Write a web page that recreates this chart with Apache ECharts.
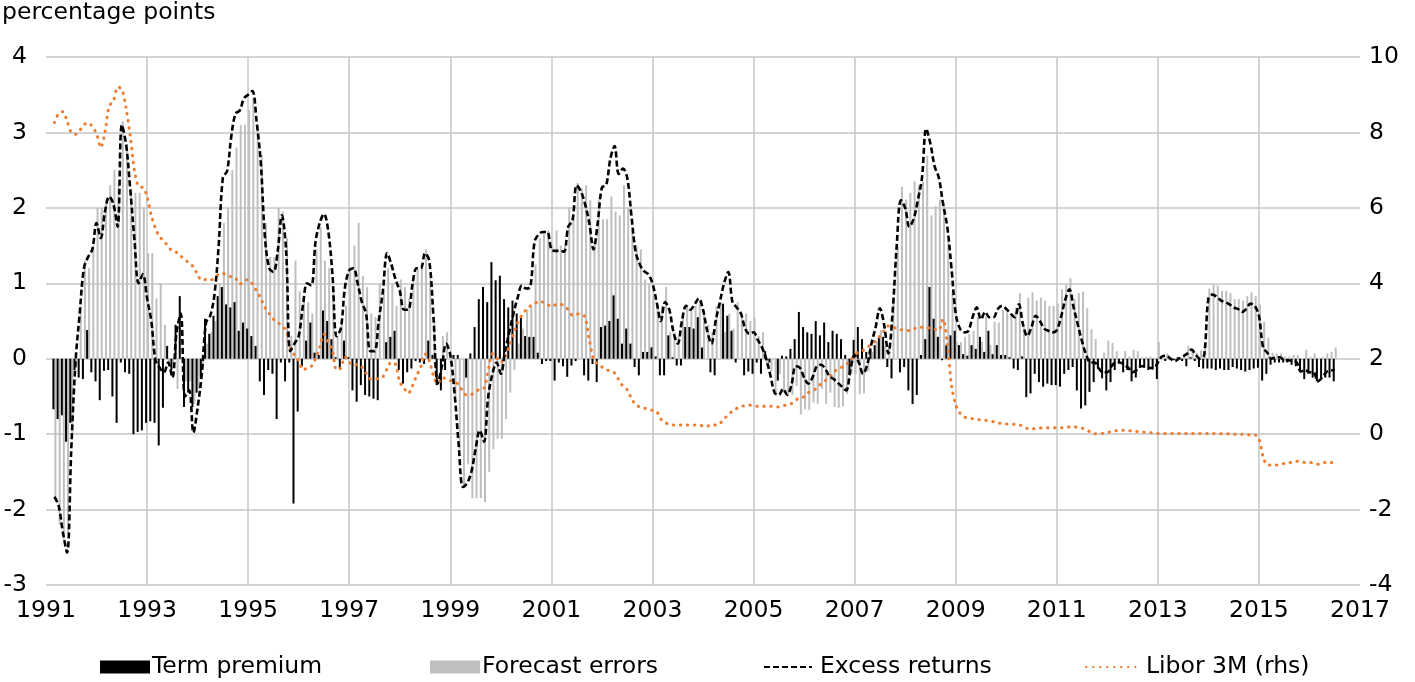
<!DOCTYPE html>
<html><head><meta charset="utf-8">
<script src="https://cdn.jsdelivr.net/npm/echarts@6/dist/echarts.min.js"></script>
<style>html,body{margin:0;padding:0;background:#fff}#c{width:1415px;height:682px}</style>
</head><body><div id="c"></div>
<script>
// Monthly observations, first month: March 1991
const startYear = 1991, startMonth = 3;

const termPremium = [
 -0.67,-0.8,-0.75,-1.1,-0.85,-0.15,-0.25,-0.27,0.38,-0.18,
 -0.3,-0.55,-0.16,-0.15,-0.5,-0.85,-0.05,-0.18,-0.2,-1.0,-0.97,-0.95,
 -0.85,-0.83,-0.85,-1.15,-0.65,0.17,-0.15,0.45,0.83,-0.64,-0.45,-0.64,
 -0.45,-0.25,0.53,0.33,0.57,0.83,0.95,0.72,0.68,0.75,0.37,0.48,
 0.4,0.3,0.17,-0.3,-0.48,-0.15,-0.2,-0.8,-0.05,-0.3,-0.05,-1.92,
 -0.7,-0.1,0.24,0.48,0.08,0.05,0.64,0.5,0.26,0.02,-0.12,0.24,
 0.02,-0.42,-0.57,-0.35,-0.48,-0.5,-0.53,-0.55,0.0,0.22,0.29,0.37,
 -0.15,-0.33,-0.18,-0.13,-0.03,-0.05,-0.07,0.24,0.05,-0.35,-0.42,-0.15,
 0.0,0.05,0.05,0.0,-0.25,0.07,0.42,0.79,0.95,0.75,1.28,1.04,
 1.1,0.79,0.68,0.77,0.6,0.55,0.3,0.29,0.29,0.08,-0.07,-0.03,
 -0.03,-0.29,-0.05,-0.1,-0.24,-0.09,-0.03,0.0,-0.22,-0.29,-0.07,-0.31,
 0.42,0.44,0.5,0.84,0.53,0.2,0.4,0.2,-0.11,-0.22,0.09,0.09,
 0.15,0.03,-0.22,-0.22,0.31,0.02,-0.09,-0.09,0.42,0.42,0.4,0.55,
 0.15,0.0,-0.18,-0.22,0.0,0.73,0.57,0.37,-0.05,0.0,-0.22,-0.17,
 -0.2,-0.05,-0.2,0.1,-0.05,0.0,-0.29,0.04,0.03,0.13,0.26,0.62,
 0.42,0.35,0.33,0.5,0.31,0.48,0.22,0.37,0.33,0.26,0.05,-0.2,
 0.25,0.42,0.26,0.09,0.11,0.18,0.29,0.29,-0.11,-0.26,0.0,-0.18,
 -0.11,-0.42,-0.6,-0.48,0.05,0.26,0.95,0.53,0.29,-0.02,0.18,0.31,
 0.37,0.18,0.06,0.04,0.18,0.13,0.29,0.09,0.37,0.06,0.18,0.05,
 0.05,0.02,-0.13,-0.15,0.03,-0.51,-0.46,-0.2,-0.31,-0.37,-0.33,-0.35,
 -0.35,-0.37,-0.2,-0.15,-0.11,-0.42,-0.66,-0.62,-0.44,-0.31,-0.13,-0.26,
 -0.42,-0.31,-0.15,-0.05,-0.18,-0.15,-0.3,-0.25,-0.12,-0.12,-0.15,-0.12,
 -0.27,0.03,-0.03,0.02,-0.02,0.02,-0.03,-0.1,0.02,-0.03,-0.11,-0.13,
 -0.13,-0.13,-0.15,-0.13,-0.15,-0.15,-0.11,-0.13,-0.15,-0.17,-0.15,-0.13,
 -0.12,-0.29,-0.2,-0.08,-0.05,-0.05,-0.05,-0.05,-0.08,-0.1,-0.15,-0.27,
 -0.2,-0.25,-0.3,-0.27,-0.25,-0.25,-0.3
];

const forecastErrors = [
 -1.83,-2.2,-2.4,-2.3,-1.0,-0.1,0.7,1.3,1.2,1.5,
 2.0,2.0,2.05,2.3,2.5,2.3,3.15,2.85,2.25,2.2,2.2,2.0,
 1.4,1.4,0.8,1.0,0.45,-0.1,-0.1,-0.4,0.0,-0.3,-0.3,-0.6,
 -0.4,-0.1,0.2,0.35,0.5,1.0,1.8,2.0,2.5,2.8,3.1,3.1,
 3.3,3.45,3.1,2.7,1.8,1.35,1.35,2.0,1.95,1.6,0.3,1.3,
 0.9,0.8,0.75,0.6,1.45,1.75,1.3,1.2,0.9,0.3,0.5,0.7,
 1.15,1.5,1.8,1.1,0.95,0.6,0.55,1.0,0.9,1.2,1.0,0.7,
 1.05,0.95,0.8,1.1,1.2,1.25,1.45,1.05,0.5,0.0,0.3,0.35,
 0.05,-0.5,-1.2,-1.7,-1.4,-1.85,-1.85,-1.85,-1.9,-1.5,-1.2,-1.06,
 -1.06,-0.8,-0.45,-0.15,0.2,0.4,0.65,0.7,1.25,1.6,1.7,1.7,
 1.5,1.7,1.5,1.5,2.0,1.9,2.33,2.25,2.3,2.1,1.55,2.1,
 1.85,1.85,2.15,1.95,1.9,2.3,2.0,1.7,1.5,1.45,1.05,1.0,
 0.85,0.7,0.7,0.95,0.35,0.35,0.3,0.55,0.7,0.65,0.7,0.75,
 0.65,0.45,0.35,0.7,0.75,0.35,0.6,0.4,0.75,0.6,0.6,0.5,
 0.55,0.3,0.35,-0.1,-0.17,-0.45,-0.2,-0.45,-0.5,-0.48,-0.36,-0.74,
 -0.67,-0.68,-0.58,-0.6,-0.4,-0.6,-0.45,-0.64,-0.65,-0.63,-0.47,-0.2,
 -0.2,-0.47,-0.46,-0.17,0.09,0.24,0.38,0.16,0.18,0.81,1.5,2.28,
 2.11,2.2,2.35,2.3,2.35,2.69,1.9,2.02,2.11,2.07,1.57,0.89,
 0.23,0.22,0.29,0.33,0.37,0.55,0.23,0.56,0.18,0.49,0.48,0.65,
 0.61,0.58,0.68,0.87,0.42,0.81,0.88,0.77,0.81,0.77,0.7,0.7,
 0.73,0.92,0.98,1.07,0.79,0.87,0.89,0.67,0.39,0.26,0.0,0.08,
 0.24,0.21,0.1,0.0,0.1,0.03,0.12,0.1,0.02,0.02,0.03,-0.01,
 0.22,0.0,0.07,-0.02,-0.01,-0.02,0.06,0.17,0.1,0.08,0.11,0.18,
 0.93,0.98,0.97,0.9,0.9,0.87,0.79,0.79,0.77,0.83,0.88,0.83,
 0.72,0.49,0.28,0.08,0.07,0.07,0.03,0.03,0.05,0.05,-0.02,0.12,
 0.02,0.07,0.0,0.02,0.07,0.09,0.15
];

const excessReturns = [
 -1.83,-1.95,-2.3,-2.57,-1.2,-0.05,0.6,1.2,1.35,1.45,
 1.8,1.6,1.95,2.15,2.05,1.75,3.1,2.85,2.25,1.58,1.0,1.12,
 0.8,0.5,-0.02,-0.12,-0.18,-0.05,-0.25,0.35,0.6,-0.5,-0.42,-0.98,
 -0.65,-0.2,0.48,0.57,0.85,1.5,2.4,2.49,2.95,3.25,3.29,3.45,
 3.5,3.55,3.15,2.6,1.6,1.2,1.15,1.42,1.9,1.45,0.1,0.2,
 0.3,0.7,1.0,0.97,1.55,1.8,1.92,1.7,1.13,0.3,0.4,0.95,
 1.17,1.2,1.0,0.75,0.6,0.1,0.1,0.5,0.9,1.4,1.25,1.05,
 0.9,0.65,0.65,0.98,1.2,1.2,1.4,1.3,0.55,-0.33,-0.1,0.2,
 0.05,-0.45,-1.15,-1.7,-1.65,-1.5,-1.2,-0.95,-1.1,-0.5,-0.2,-0.05,
 -0.2,0.1,0.35,0.6,0.81,0.97,0.93,0.95,1.55,1.65,1.68,1.68,
 1.45,1.43,1.43,1.42,1.75,1.83,2.3,2.22,2.05,1.8,1.45,1.8,
 2.27,2.3,2.65,2.82,2.45,2.52,2.4,1.9,1.42,1.25,1.16,1.12,
 1.0,0.75,0.5,0.75,0.65,0.35,0.2,0.5,0.7,0.65,0.72,0.8,
 0.65,0.37,0.2,0.5,0.75,1.0,1.15,0.75,0.68,0.6,0.4,0.33,
 0.35,0.25,0.15,0.0,-0.22,-0.45,-0.48,-0.4,-0.48,-0.35,-0.1,-0.12,
 -0.25,-0.33,-0.25,-0.1,-0.08,-0.13,-0.23,-0.27,-0.32,-0.37,-0.42,-0.15,
 0.05,-0.05,-0.2,-0.08,0.2,0.42,0.67,0.45,0.07,0.6,1.5,2.1,
 2.0,1.75,1.85,2.1,2.4,3.05,2.85,2.55,2.4,2.05,1.75,1.2,
 0.6,0.4,0.35,0.37,0.55,0.68,0.52,0.62,0.55,0.55,0.66,0.7,
 0.66,0.6,0.55,0.72,0.45,0.3,0.42,0.57,0.5,0.4,0.37,0.35,
 0.38,0.55,0.78,0.92,0.68,0.45,0.23,0.05,-0.05,-0.05,-0.13,-0.18,
 -0.18,-0.1,-0.05,-0.05,-0.08,-0.12,-0.18,-0.15,-0.1,-0.1,-0.12,-0.13,
 -0.05,0.03,0.04,0.0,-0.03,0.0,0.03,0.07,0.12,0.05,0.0,0.05,
 0.8,0.85,0.82,0.77,0.75,0.72,0.68,0.66,0.62,0.66,0.73,0.7,
 0.57,0.15,0.08,0.0,0.02,0.02,-0.02,-0.02,-0.03,-0.05,-0.17,-0.15,
 -0.18,-0.18,-0.3,-0.25,-0.18,-0.16,-0.15
];

const libor3m = [
 8.26,8.5,8.55,8.3,8.0,7.95,8.05,8.2,8.26,8.15,
 7.97,7.6,8.0,8.7,8.83,9.2,9.15,8.65,7.9,7.0,6.56,6.54,
 6.3,5.8,5.45,5.23,5.12,4.98,4.85,4.82,4.72,4.64,4.52,4.44,
 4.22,4.08,4.1,4.08,4.15,4.24,4.26,4.22,4.17,4.14,3.98,4.05,
 4.1,3.98,3.8,3.6,3.35,3.2,3.05,2.96,2.88,2.74,2.3,2.1,
 1.95,1.7,1.75,1.8,2.0,2.3,2.65,2.45,2.22,1.7,1.75,2.05,
 1.91,1.82,1.85,1.78,1.62,1.47,1.47,1.47,1.52,1.74,1.91,1.85,
 1.38,1.22,1.08,1.28,1.55,1.78,2.13,1.95,1.55,1.34,1.5,1.47,
 1.42,1.38,1.32,1.12,1.03,1.05,1.12,1.2,1.22,1.69,2.13,2.02,
 1.9,2.05,2.31,2.65,2.95,3.15,3.3,3.4,3.45,3.53,3.5,3.45,
 3.38,3.43,3.45,3.4,3.3,3.15,3.18,3.19,3.1,2.5,2.0,1.86,
 1.78,1.7,1.69,1.62,1.44,1.27,1.18,0.95,0.78,0.72,0.69,0.66,
 0.63,0.6,0.4,0.3,0.27,0.24,0.24,0.24,0.24,0.24,0.24,0.24,
 0.22,0.21,0.26,0.24,0.28,0.41,0.5,0.62,0.68,0.74,0.75,0.77,
 0.75,0.74,0.74,0.74,0.74,0.73,0.72,0.75,0.78,0.81,0.9,0.97,
 0.99,1.1,1.15,1.22,1.33,1.42,1.5,1.64,1.73,1.78,1.85,1.95,
 2.1,2.18,2.22,2.3,2.38,2.48,2.6,2.74,2.87,2.85,2.8,2.77,
 2.75,2.75,2.78,2.84,2.83,2.82,2.81,2.78,2.75,3.05,2.4,1.3,
 0.78,0.56,0.46,0.42,0.41,0.39,0.38,0.37,0.35,0.33,0.3,0.28,
 0.27,0.26,0.26,0.24,0.22,0.15,0.14,0.15,0.16,0.17,0.17,0.17,
 0.17,0.17,0.18,0.19,0.19,0.18,0.16,0.11,0.06,0.01,0.01,0.02,
 0.04,0.07,0.09,0.1,0.1,0.09,0.09,0.07,0.06,0.05,0.04,0.03,
 0.02,0.02,0.02,0.02,0.02,0.02,0.02,0.02,0.02,0.02,0.02,0.02,
 0.02,0.02,0.02,0.01,0.01,0.01,0.0,0.0,0.0,-0.01,-0.02,-0.02,
 -0.12,-0.6,-0.82,-0.82,-0.82,-0.79,-0.78,-0.76,-0.74,-0.72,-0.74,-0.75,
 -0.75,-0.77,-0.8,-0.76,-0.75,-0.75,-0.75
];

const seriesNames = ['Term premium', 'Forecast errors', 'Excess returns', 'Libor 3M (rhs)'];
const yearTicks = { min: 1991, max: 2017, step: 2 };
const leftTicks = { min: -3, max: 4, step: 1 };
const rightTicks = { min: -4, max: 10, step: 2 };

// decimal-year date of each monthly observation
const dates = termPremium.map((_, i) => startYear + (startMonth - 1 + i) / 12);
const pairs = arr => arr.map((v, i) => [dates[i], v]);

const FONT = '"DejaVu Sans", "Liberation Sans", Arial, sans-serif';
const FS = 23.5;
const GRID = '#c6c6c6';
const legendText = { fontFamily: FONT, fontSize: FS, color: '#000' };
const hiddenSymbol = { color: 'rgba(0,0,0,0)', borderWidth: 0, opacity: 0 };

const chart = echarts.init(document.getElementById('c'), null, { renderer: 'canvas' });
chart.setOption({
  animation: false,
  backgroundColor: '#fff',
  textStyle: { fontFamily: FONT, color: '#000' },
  title: {
    text: 'percentage points', left: -3, top: -4,
    textStyle: { fontFamily: FONT, fontSize: FS, fontWeight: 'normal', color: '#000' }
  },
  grid: { left: 46, right: 55, top: 57, bottom: 97, containLabel: false },
  legend: [
    { data: [seriesNames[0]], left: 95, top: 650, itemWidth: 50, itemHeight: 13, itemGap: 0, icon: 'rect',
      textStyle: Object.assign({ padding: [0,0,0,-3] }, legendText) },
    { data: [seriesNames[1]], left: 425, top: 650, itemWidth: 50, itemHeight: 13, itemGap: 0, icon: 'rect',
      textStyle: Object.assign({ padding: [0,0,0,-3] }, legendText) },
    { data: [seriesNames[2]], left: 758, top: 650, itemWidth: 48, itemHeight: 13, itemGap: 0,
      itemStyle: hiddenSymbol, textStyle: Object.assign({ padding: [0,0,0,3] }, legendText) },
    { data: [seriesNames[3]], left: 1080, top: 650, itemWidth: 53, itemHeight: 13, itemGap: 0,
      itemStyle: hiddenSymbol, textStyle: Object.assign({ padding: [0,0,0,2] }, legendText) }
  ],
  xAxis: {
    type: 'value', min: yearTicks.min, max: yearTicks.max, interval: yearTicks.step,
    axisLine: { show: false }, axisTick: { show: false },
    axisLabel: { fontFamily: FONT, fontSize: FS, color: '#000', margin: 14, formatter: v => String(v) },
    splitLine: { show: true, showMinLine: false, showMaxLine: false, lineStyle: { color: GRID, width: 1.5 } }
  },
  yAxis: [
    { type: 'value', min: leftTicks.min, max: leftTicks.max, interval: leftTicks.step,
      axisLine: { show: false }, axisTick: { show: false },
      axisLabel: { fontFamily: FONT, fontSize: FS, color: '#000', margin: 19 },
      splitLine: { show: true, lineStyle: { color: GRID, width: 1.5 } } },
    { type: 'value', min: rightTicks.min, max: rightTicks.max, interval: rightTicks.step, position: 'right',
      axisLine: { show: false }, axisTick: { show: false },
      axisLabel: { fontFamily: FONT, fontSize: FS, color: '#000', margin: 9 },
      splitLine: { show: false } }
  ],
  series: [
    { name: seriesNames[0], type: 'bar', data: pairs(termPremium), barWidth: 2, barGap: '0%',
      itemStyle: { color: '#000' }, z: 3 },
    { name: seriesNames[1], type: 'bar', data: pairs(forecastErrors), barWidth: 2, barGap: '0%',
      itemStyle: { color: '#bfbfbf' }, z: 2 },
    { name: seriesNames[2], type: 'line', data: pairs(excessReturns), smooth: 0.35, symbol: 'none',
      lineStyle: { color: '#000', width: 2.6, type: [6, 3] }, itemStyle: { color: '#000' }, z: 5 },
    { name: seriesNames[3], type: 'line', yAxisIndex: 1, data: pairs(libor3m), smooth: 0.3, symbol: 'none',
      lineStyle: { color: '#ED7D31', width: 3, type: [0.5, 6.5], cap: 'round' }, itemStyle: { color: '#ED7D31' }, z: 4 }
  ]
});
</script>
</body></html>
